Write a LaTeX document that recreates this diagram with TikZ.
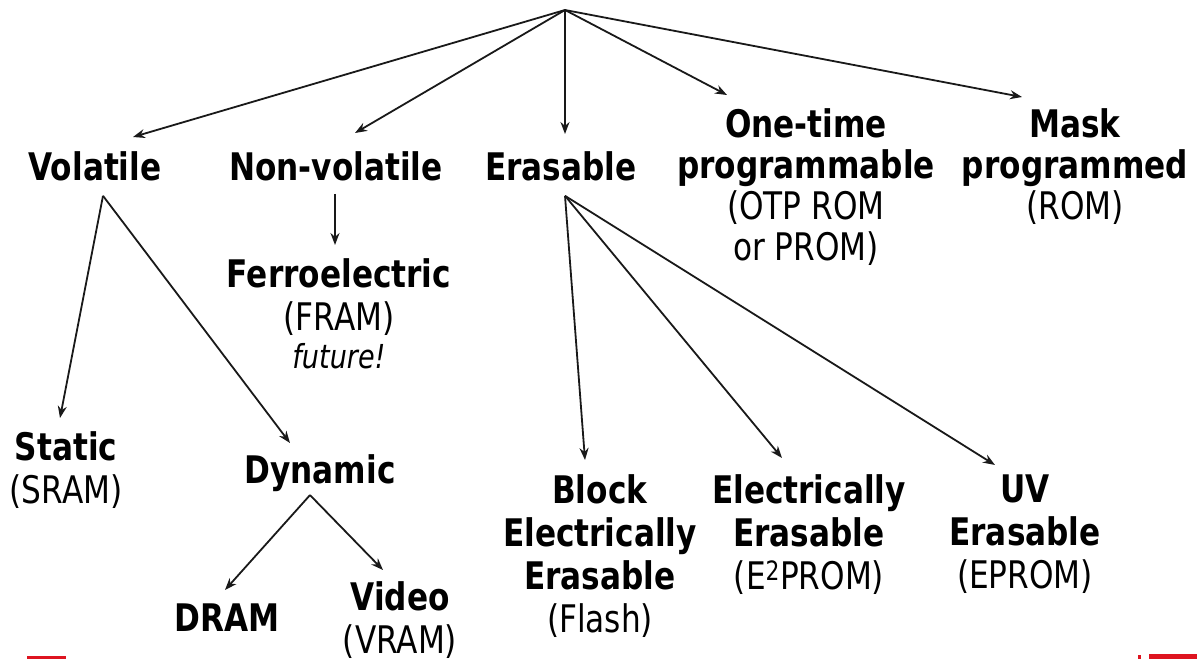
\documentclass[tikz,border=0pt]{standalone}
\usepackage{fontspec}
\setmainfont{DejaVu Sans}[FakeStretch=0.82]
\usetikzlibrary{arrows.meta}
\definecolor{slidered}{RGB}{222,20,32}

\begin{document}
\begin{tikzpicture}[x=1pt,y=-1pt,
  lbl/.style={inner sep=0pt, align=center, anchor=north, font=\fontsize{38}{43}\selectfont},
  arr/.style={draw=black!90, line width=1.8pt, -{Stealth[length=12pt,width=9pt]}}]
  \useasboundingbox (0,0) rectangle (1197,659);

  % Top of the tree
  \coordinate (mem) at (565,10);

  % First row
  \node[lbl] (vol) at (95,151) {\textbf{Volatile}};
  \node[lbl] (nonvol) at (336,151) {\textbf{Non-volatile}};
  \node[lbl] (eras) at (561,151) {\textbf{Erasable}};
  \node[lbl, font=\fontsize{38}{41}\selectfont] (otp) at (806,108)
    {\textbf{One-time}\\\textbf{programmable}\\(OTP ROM\\or PROM)};
  \node[lbl, font=\fontsize{38}{41}\selectfont] (mask) at (1075,108)
    {\textbf{Mask}\\\textbf{programmed}\\(ROM)};

  % Non-volatile branch
  \node[lbl] (ferro) at (339,258)
    {\textbf{Ferroelectric}\\(FRAM)\\[-5pt]{\fontsize{33}{38}\selectfont\itshape future!}};

  % Volatile branch
  \node[lbl] (static) at (66,431) {\textbf{Static}\\(SRAM)};
  \node[lbl] (dyn) at (320,454) {\textbf{Dynamic}};
  \node[lbl] (dram) at (227,604) {\textbf{DRAM}};
  \node[lbl] (video) at (400,581) {\textbf{Video}\\(VRAM)};

  % Erasable branch
  \node[lbl] (flash) at (600,474)
    {\textbf{Block}\\\textbf{Electrically}\\\textbf{Erasable}\\(Flash)};
  \node[lbl] (eeprom) at (809,474)
    {\textbf{Electrically}\\\textbf{Erasable}\\(E\textsuperscript{2}PROM)};
  \node[lbl] (uv) at (1025,475) {\textbf{UV}\\\textbf{Erasable}\\(EPROM)};

  % Arrows from the top
  \draw[arr] (mem) -- ([xshift=38pt,yshift=14pt]vol.north);
  \draw[arr] (mem) -- ([xshift=19pt,yshift=18pt]nonvol.north);
  \draw[arr] (mem) -- ([xshift=4pt,yshift=17pt]eras.north);
  \draw[arr] (mem) -- ([xshift=-79pt,yshift=13pt]otp.north);
  \draw[arr] (mem) -- ([xshift=-53pt,yshift=11pt]mask.north);

  % Arrows in the branches
  \draw[arr] ([xshift=-1pt,yshift=-13pt]nonvol.south) -- ([xshift=-4pt,yshift=13pt]ferro.north);
  \draw[arr] ([xshift=8pt,yshift=-15pt]vol.south) -- ([xshift=-6pt,yshift=13pt]static.north);
  \draw[arr] ([xshift=8pt,yshift=-15pt]vol.south) -- ([xshift=-30pt,yshift=11pt]dyn.north);
  \draw[arr] ([xshift=-10pt,yshift=-12pt]dyn.base) -- ([xshift=-2pt,yshift=14pt]dram.north);
  \draw[arr] ([xshift=-10pt,yshift=-12pt]dyn.base) -- ([xshift=-17pt,yshift=11pt]video.north);
  \draw[arr] ([xshift=4pt,yshift=-15pt]eras.south) -- ([xshift=-15pt,yshift=14pt]flash.north);
  \draw[arr] ([xshift=4pt,yshift=-15pt]eras.south) -- ([xshift=-27pt,yshift=16pt]eeprom.north);
  \draw[arr] ([xshift=4pt,yshift=-15pt]eras.south) -- ([xshift=-30pt,yshift=10pt]uv.north);

  % Slide footer marks
  \fill[slidered] (27,656) rectangle (66,659);
  \fill[slidered] (1138,655) rectangle (1141,659);
  \fill[slidered] (1149,654) rectangle (1197,659);
\end{tikzpicture}
\end{document}
